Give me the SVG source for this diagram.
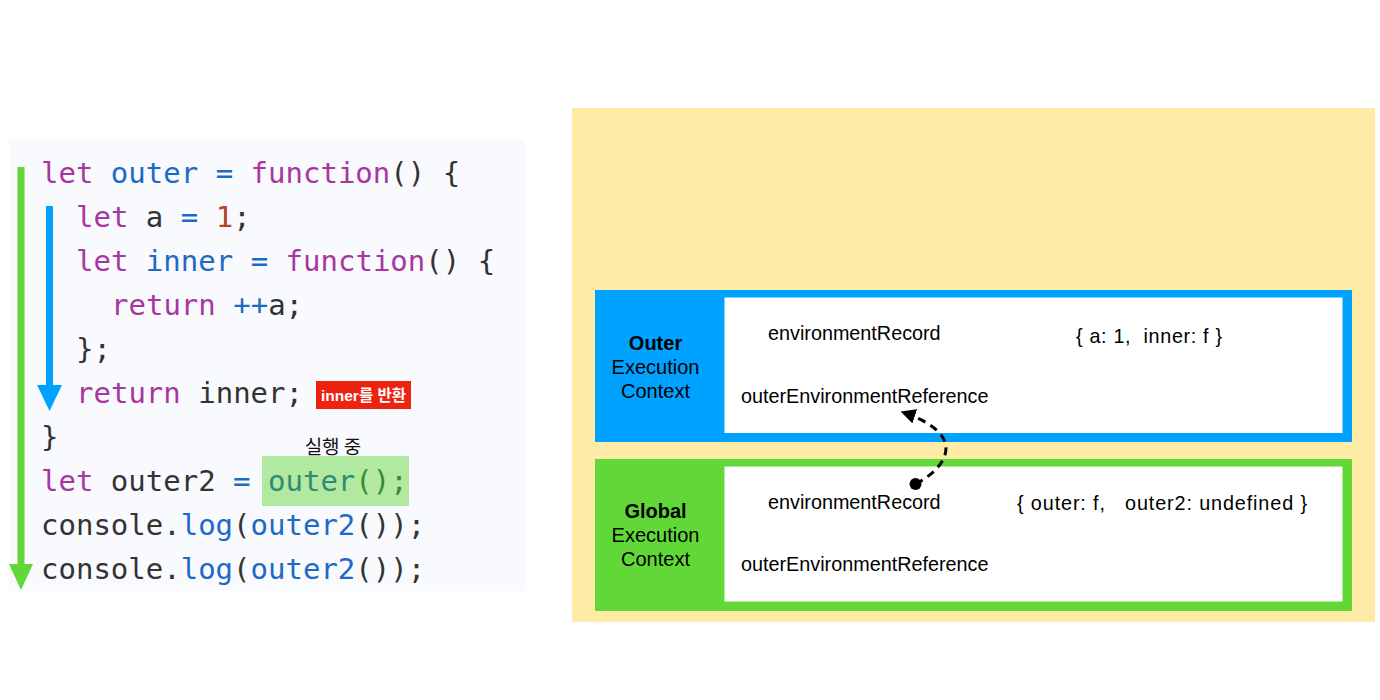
<svg xmlns="http://www.w3.org/2000/svg" width="1380" height="700" viewBox="0 0 1380 700">
<defs>
<style>
.code{font-family:"DejaVu Sans Mono","Liberation Mono",monospace;font-size:29px;white-space:pre;fill:#333333}
.kw{fill:#a8369f}
.id{fill:#1d69c6}
.num{fill:#b5402a}
.hl{fill:#2e8c72}
.hp{fill:#3a8a35}
.lbl{font-family:"Liberation Sans",Arial,sans-serif;font-size:19.8px;fill:#000;white-space:pre}
.ctx{font-family:"Liberation Sans",Arial,sans-serif;font-size:20px;fill:#000;text-anchor:middle}
.b{font-weight:bold}
.kr{font-family:"Noto Sans CJK KR",sans-serif}
</style>
<marker id="ah" viewBox="0 0 10 10" refX="9" refY="5" markerWidth="5" markerHeight="5" orient="auto" markerUnits="strokeWidth">
<path d="M0,0 L10,5 L0,10 z" fill="#000"/>
</marker>
</defs>
<rect width="1380" height="700" fill="#ffffff"/>

<g id="code-panel">
<rect x="9" y="139" width="516" height="452" fill="#f8fafd"/>
<rect x="262" y="456" width="147" height="50" fill="#b1e9a0"/>
<text class="code" x="41" y="183"><tspan class="kw">let</tspan> <tspan class="id">outer</tspan> <tspan class="id">=</tspan> <tspan class="kw">function</tspan>() {</text>
<text class="code" x="76" y="227"><tspan class="kw">let</tspan> a <tspan class="id">=</tspan> <tspan class="num">1</tspan>;</text>
<text class="code" x="76" y="271"><tspan class="kw">let</tspan> <tspan class="id">inner</tspan> <tspan class="id">=</tspan> <tspan class="kw">function</tspan>() {</text>
<text class="code" x="111" y="315"><tspan class="kw">return</tspan> <tspan class="id">++</tspan>a;</text>
<text class="code" x="76" y="359">};</text>
<text class="code" x="76" y="403"><tspan class="kw">return</tspan> inner;</text>
<text class="code" x="41" y="447">}</text>
<text class="code" x="41" y="491"><tspan class="kw">let</tspan> outer2 <tspan class="id">=</tspan> <tspan class="hl">outer</tspan><tspan class="hp">();</tspan></text>
<text class="code" x="41" y="535">console.<tspan class="id">log</tspan>(<tspan class="id">outer2</tspan>());</text>
<text class="code" x="41" y="579">console.<tspan class="id">log</tspan>(<tspan class="id">outer2</tspan>());</text>
</g>

<g id="flow-arrows">
<rect x="17.5" y="167" width="7" height="400" fill="#62d838"/>
<path d="M9,564 L33,564 L21,590 z" fill="#62d838"/>
<rect x="46" y="206" width="7" height="182" fill="#00a2ff"/>
<path d="M37,385 L62,385 L49.5,411 z" fill="#00a2ff"/>
</g>

<g id="return-label">
<rect x="316" y="381" width="95" height="28" fill="#ee2211"/>
<text x="363.5" y="401" text-anchor="middle" font-family="Liberation Sans,'Noto Sans CJK KR',sans-serif" font-size="15.5" font-weight="bold" fill="#ffffff">inner를 반환</text>
</g>

<g id="running-label">
<text class="kr" x="333" y="454" text-anchor="middle" font-size="19" fill="#111">실행 중</text>
</g>

<g id="environment-panel">
<rect x="572" y="108" width="803" height="514" fill="#feeba6"/>
</g>

<g id="outer-context">
<rect x="595" y="290" width="757" height="152" fill="#00a2ff"/>
<rect x="724.5" y="297.5" width="618" height="135.5" fill="#ffffff"/>
<text class="ctx b" x="655.5" y="350">Outer</text>
<text class="ctx" x="655.5" y="374">Execution</text>
<text class="ctx" x="655.5" y="398">Context</text>
<text class="lbl" x="768" y="340">environmentRecord</text>
<text class="lbl" x="1076" y="343" textLength="146" lengthAdjust="spacing">{ a: 1,  inner: f }</text>
<text class="lbl" x="741" y="403">outerEnvironmentReference</text>
</g>

<g id="global-context">
<rect x="595" y="459" width="757" height="152" fill="#62d838"/>
<rect x="724.5" y="466.5" width="618" height="135" fill="#ffffff"/>
<text class="ctx b" x="655.5" y="518">Global</text>
<text class="ctx" x="655.5" y="542">Execution</text>
<text class="ctx" x="655.5" y="566">Context</text>
<text class="lbl" x="768" y="509">environmentRecord</text>
<text class="lbl" x="1017" y="510" textLength="290" lengthAdjust="spacing">{ outer: f,   outer2: undefined }</text>
<text class="lbl" x="741" y="571">outerEnvironmentReference</text>
</g>

<g id="connectors">
<circle cx="915.5" cy="484" r="6" fill="#000"/>
<path d="M915.5,484 C935,474 950,458 945,442 C940,428 920,418 902,412" fill="none" stroke="#000" stroke-width="3" stroke-dasharray="8,6" marker-end="url(#ah)"/>
</g>
</svg>
